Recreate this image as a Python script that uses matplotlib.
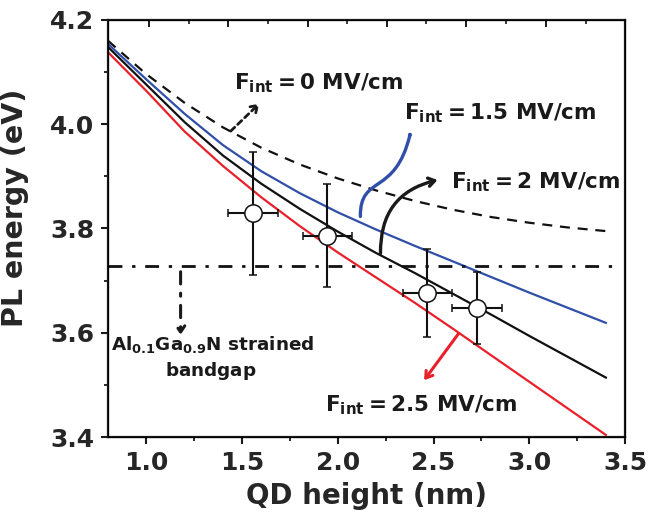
import numpy as np
import matplotlib
matplotlib.use('Agg')
import matplotlib.pyplot as plt
from matplotlib.patches import FancyArrowPatch
from matplotlib.path import Path

plt.rcParams['font.family'] = ['DejaVu Sans']
plt.rcParams['font.weight'] = 'bold'
plt.rcParams['mathtext.fontset'] = 'custom'
plt.rcParams['mathtext.rm'] = 'DejaVu Sans:bold'
plt.rcParams['mathtext.bf'] = 'DejaVu Sans:bold'
plt.rcParams['mathtext.it'] = 'DejaVu Sans:bold'

# Courbes calculees (energie PL vs hauteur des QD)
x_calc = [0.8, 1.0, 1.2, 1.4, 1.6, 1.8, 2.0, 2.2, 2.4, 2.6, 2.8, 3.0, 3.2, 3.4]
e_f0 = [4.160, 4.096, 4.041, 3.994, 3.955, 3.923, 3.896, 3.873, 3.853, 3.836, 3.822, 3.811, 3.802, 3.795]
e_f15 = [4.154, 4.086, 4.020, 3.960, 3.910, 3.868, 3.831, 3.798, 3.767, 3.737, 3.707, 3.677, 3.648, 3.619]
e_f2 = [4.148, 4.076, 4.004, 3.940, 3.886, 3.838, 3.794, 3.753, 3.715, 3.675, 3.635, 3.594, 3.554, 3.514]
e_f25 = [4.138, 4.064, 3.986, 3.920, 3.860, 3.805, 3.754, 3.706, 3.658, 3.608, 3.557, 3.506, 3.455, 3.404]

# Mesures
h_mes = [1.556, 1.946, 2.468, 2.728]
e_mes = [3.829, 3.786, 3.676, 3.647]
h_err = [0.13, 0.13, 0.13, 0.13]
e_err = [0.118, 0.099, 0.084, 0.069]

gap_algan = 3.728

top_major = [1.014, 1.427, 1.844, 2.256, 2.669, 3.087]
top_minor = [1.221, 1.637, 2.050, 2.463, 2.877, 3.294]

txt_col = '#262626'

fig = plt.figure(figsize=(6.48, 5.25), dpi=100)
ax = fig.add_axes([0.1667, 0.1676, 0.7978, 0.7944])

ax.plot(x_calc, e_f0, color='#111111', lw=1.6, ls=(0, (4.5, 3.5)))
ax.plot(x_calc, e_f15, color='#2f4fa8', lw=1.6)
ax.plot(x_calc, e_f2, color='#111111', lw=1.6)
ax.plot(x_calc, e_f25, color='#e8202a', lw=1.6)

ax.hlines(gap_algan, 0.8, 3.45, color='#111111', lw=2.0, ls=(0, (5, 3.5, 1.2, 3.5)))

ax.errorbar(h_mes, e_mes, xerr=h_err, yerr=e_err, fmt='o', ms=12.5,
            mfc='white', mec='#111111', mew=1.1, ecolor='#111111',
            elinewidth=1.5, capsize=2.8, capthick=1.5, zorder=5)

ax.set_xlim(0.8, 3.5)
ax.set_ylim(3.4, 4.2)
ax.set_xticks([1.0, 1.5, 2.0, 2.5, 3.0, 3.5])
ax.set_xticks([1.25, 1.75, 2.25, 2.75, 3.25], minor=True)
ax.set_yticks([3.4, 3.6, 3.8, 4.0, 4.2])
ax.set_yticks([3.5, 3.7, 3.9, 4.1], minor=True)
ax.set_xticklabels(['1.0', '1.5', '2.0', '2.5', '3.0', '3.5'])
ax.set_yticklabels(['3.4', '3.6', '3.8', '4.0', '4.2'])

for s in ax.spines.values():
    s.set_linewidth(1.6)
    s.set_color('#1a1a1a')

ax.tick_params(which='major', direction='out', length=5, width=1.5,
               labelsize=18, labelcolor=txt_col, color='#1a1a1a', pad=5)
ax.tick_params(which='minor', direction='out', length=3, width=1.3, color='#1a1a1a')
ax.tick_params(top=False, right=False, which='both')

# axe du haut : graduations differentes
ax2 = ax.twiny()
ax2.set_xlim(0.8, 3.5)
ax2.set_xticks(top_major)
ax2.set_xticks(top_minor, minor=True)
ax2.tick_params(which='both', top=True, bottom=False, labeltop=False, labelbottom=False,
                direction='in', color='#1a1a1a')
ax2.tick_params(which='major', length=5, width=1.4)
ax2.tick_params(which='minor', length=3, width=1.2)
ax2.set_ylim(3.4, 4.2)

ax.set_xlabel('QD height (nm)', fontsize=20, fontweight='bold', color=txt_col, labelpad=5)
ax.set_ylabel('PL energy (eV)', fontsize=20.5, fontweight='bold', color=txt_col)
ax.yaxis.set_label_coords(-0.152, 0.55)

# Annotations
fs = 15.5
ax.text(1.458, 4.079, r'$\mathbf{F_{int}=0\ MV/cm}$', fontsize=fs, color='#1a1a1a', va='center', ha='left')
ax.text(2.347, 4.022, r'$\mathbf{F_{int}=1.5\ MV/cm}$', fontsize=fs, color='#1a1a1a', va='center', ha='left')
ax.text(2.589, 3.889, r'$\mathbf{F_{int}=2\ MV/cm}$', fontsize=fs, color='#1a1a1a', va='center', ha='left')
ax.text(1.932, 3.461, r'$\mathbf{F_{int}=2.5\ MV/cm}$', fontsize=fs, color='#1a1a1a', va='center', ha='left')
ax.text(1.345, 3.578, r'$\mathbf{Al_{0.1}Ga_{0.9}N\ strained}$', fontsize=13.2, color='#1a1a1a',
        va='center', ha='center')
ax.text(1.335, 3.527, r'$\mathbf{bandgap}$', fontsize=13.2, color='#1a1a1a', va='center', ha='center')

# fleches
ax.annotate('', xy=(1.60, 4.043), xytext=(1.43, 3.983),
            arrowprops=dict(arrowstyle='->,head_length=0.45,head_width=0.3', color='#1a1a1a',
                            lw=2.0, ls=(0, (2, 1.5))))
blue_path = Path([(2.118, 3.823), (2.115, 3.905), (2.30, 3.86), (2.381, 3.986)],
                 [Path.MOVETO, Path.CURVE4, Path.CURVE4, Path.CURVE4])
ax.add_patch(FancyArrowPatch(path=blue_path, arrowstyle='->,head_length=0.45,head_width=0.3',
                             color='#2f4fa8', lw=2.4, zorder=6))
ax.annotate('', xy=(2.521, 3.893), xytext=(2.223, 3.752),
            arrowprops=dict(arrowstyle='->,head_length=0.45,head_width=0.3', color='#1a1a1a',
                            lw=2.4, connectionstyle='arc3,rad=-0.4', shrinkA=0, shrinkB=0))
ax.annotate('', xy=(2.451, 3.509), xytext=(2.63, 3.598),
            arrowprops=dict(arrowstyle='->,head_length=0.45,head_width=0.3', color='#e8202a',
                            lw=2.2, shrinkA=0, shrinkB=0))
ax.annotate('', xy=(1.179, 3.596), xytext=(1.179, 3.717),
            arrowprops=dict(arrowstyle='->,head_length=0.45,head_width=0.3', color='#1a1a1a',
                            lw=2.2, ls=(0, (4, 3, 1, 3)), shrinkA=0, shrinkB=0))

plt.savefig('out.png', dpi=100)
